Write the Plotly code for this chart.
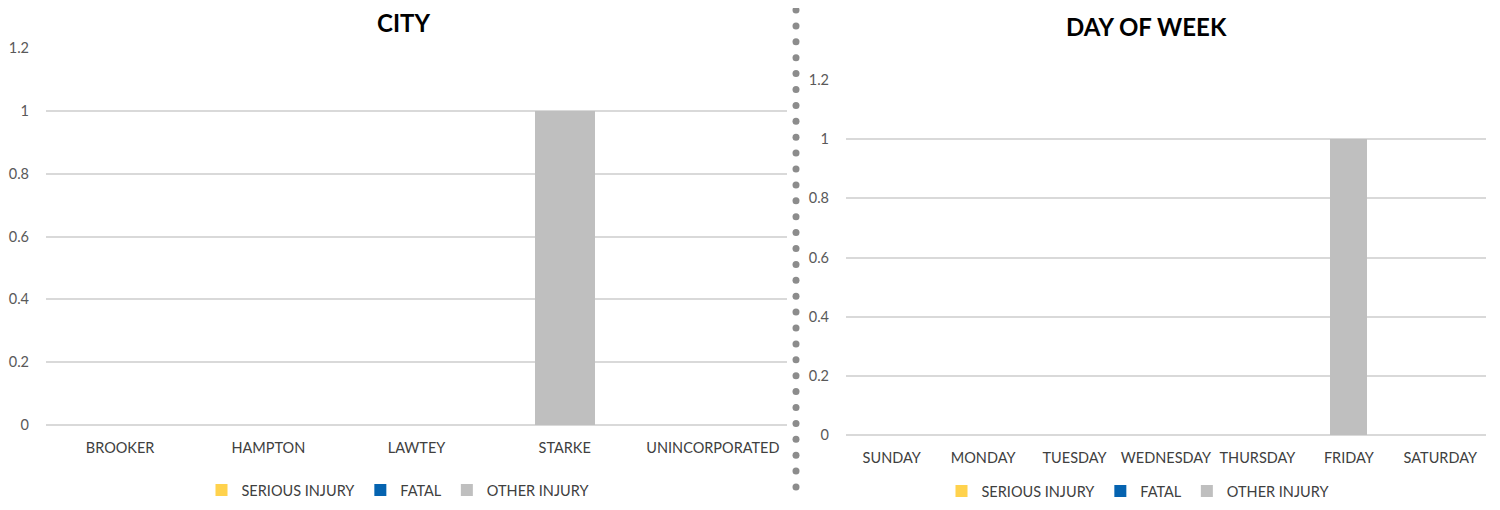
import numpy as np
import plotly.graph_objects as go

# ---- data ----
city_categories = ["BROOKER", "HAMPTON", "LAWTEY", "STARKE", "UNINCORPORATED"]
city_serious = [0, 0, 0, 0, 0]
city_fatal = [0, 0, 0, 0, 0]
city_other = [0, 0, 0, 1, 0]

day_categories = ["SUNDAY", "MONDAY", "TUESDAY", "WEDNESDAY", "THURSDAY", "FRIDAY", "SATURDAY"]
day_serious = [0, 0, 0, 0, 0, 0, 0]
day_fatal = [0, 0, 0, 0, 0, 0, 0]
day_other = [0, 0, 0, 0, 0, 1, 0]

series_names = ["SERIOUS INJURY", "FATAL", "OTHER INJURY"]
series_colors = ["#FFD24D", "#0563B0", "#BFBFBF"]

y_ticks = [0, 0.2, 0.4, 0.6, 0.8, 1, 1.2]
y_ticklabels = ["0", "0.2", "0.4", "0.6", "0.8", "1", "1.2"]

# page is 1500x510; the html body has an 8px margin, so the figure is 16px smaller
OFF = 8
W, H = 1500 - 2 * OFF, 510 - 2 * OFF
FONT = "Lato"

fig = go.Figure()

for name, color, vals in zip(series_names, series_colors, [city_serious, city_fatal, city_other]):
    fig.add_trace(go.Bar(x=city_categories, y=vals, name=name, marker_color=color,
                         marker_line_width=0, xaxis="x", yaxis="y", legend="legend"))
for name, color, vals in zip(series_names, series_colors, [day_serious, day_fatal, day_other]):
    fig.add_trace(go.Bar(x=day_categories, y=vals, name=name, marker_color=color,
                         marker_line_width=0, xaxis="x2", yaxis="y2", legend="legend2"))


def px_x(p):
    return (p - OFF) / W


def px_y(p):
    return (H - (p - OFF)) / H


# dotted divider (decoration) on a hidden overlay axis spanning the paper
div_y = np.arange(10, 510, 15.9)
fig.add_trace(go.Scatter(x=[px_x(796)] * len(div_y), y=[px_y(v) for v in div_y], mode="markers",
                         marker=dict(size=7, color="#8C8C8C"), showlegend=False,
                         hoverinfo="skip", xaxis="x3", yaxis="y3", cliponaxis=False))

axis_common = dict(showline=False, ticks="", ticklabelstandoff=12,
                   tickfont=dict(family=FONT, size=14.5, color="#404040"))
yaxis_common = dict(range=[0, 1.2], tickvals=y_ticks, ticktext=y_ticklabels,
                    showgrid=True, gridcolor="#D9D9D9", gridwidth=1.5,
                    zeroline=True, zerolinecolor="#D9D9D9", zerolinewidth=1.5,
                    showline=False, ticks="", ticklabelstandoff=16,
                    tickfont=dict(family=FONT, size=14.5, color="#595959"))

fig.update_layout(
    width=W, height=H,
    margin=dict(l=0, r=0, t=0, b=0, autoexpand=False),
    paper_bgcolor="white", plot_bgcolor="rgba(0,0,0,0)",
    barmode="stack", bargap=0.595,
    font=dict(family=FONT, color="#404040"),
    xaxis=dict(domain=[px_x(46), px_x(787)], anchor="y", **axis_common),
    yaxis=dict(domain=[px_y(425), px_y(48)], anchor="x", **yaxis_common),
    xaxis2=dict(domain=[px_x(846), px_x(1486)], anchor="y2", **axis_common),
    yaxis2=dict(domain=[px_y(435), px_y(80)], anchor="x2", **yaxis_common),
    xaxis3=dict(domain=[0, 1], range=[0, 1], visible=False, anchor="y3"),
    yaxis3=dict(domain=[0, 1], range=[0, 1], visible=False, anchor="x3"),
    legend=dict(orientation="h", x=px_x(398), xanchor="center", y=px_y(490), yanchor="middle",
                font=dict(family=FONT, size=14.5, color="#404040"), itemwidth=30,
                traceorder="normal", bgcolor="rgba(0,0,0,0)"),
    legend2=dict(orientation="h", x=px_x(1138), xanchor="center", y=px_y(491), yanchor="middle",
                 font=dict(family=FONT, size=14.5, color="#404040"), itemwidth=30,
                 traceorder="normal", bgcolor="rgba(0,0,0,0)"),
    annotations=[
        dict(text="<b>CITY</b>", x=px_x(403), y=px_y(22), xref="paper", yref="paper",
             showarrow=False, font=dict(family=FONT, size=24, color="#000000"),
             xanchor="center", yanchor="middle"),
        dict(text="<b>DAY OF WEEK</b>", x=px_x(1146), y=px_y(27), xref="paper", yref="paper",
             showarrow=False, font=dict(family=FONT, size=24, color="#000000"),
             xanchor="center", yanchor="middle"),
    ],
)

fig.write_html("out.html")
